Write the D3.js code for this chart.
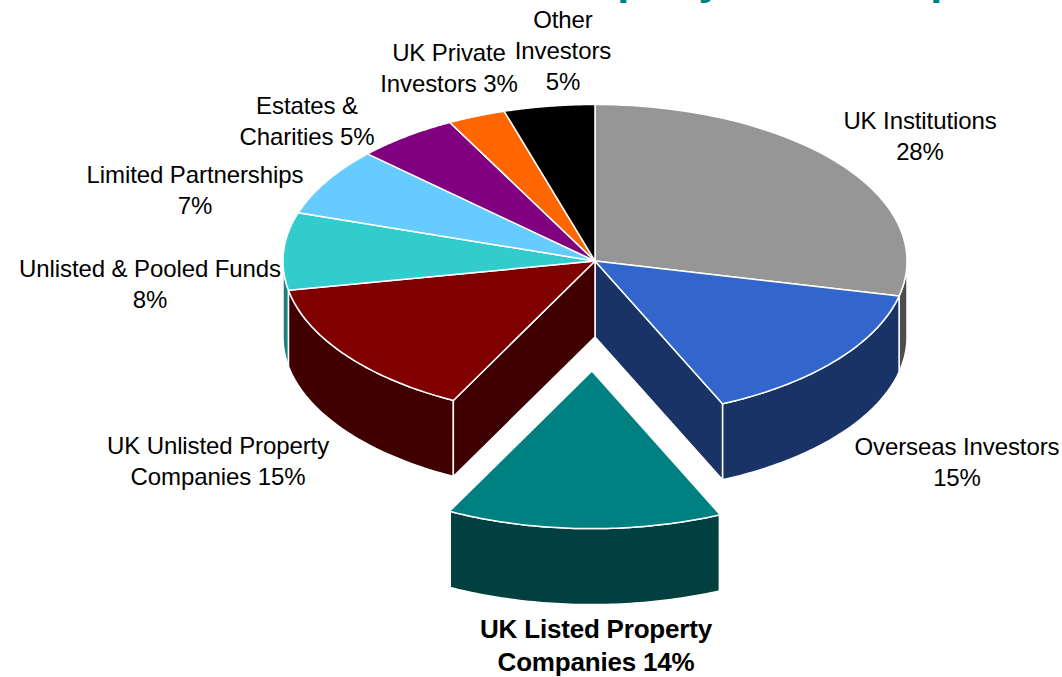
<!DOCTYPE html>
<html><head><meta charset="utf-8">
<script src="https://cdn.jsdelivr.net/npm/d3@7"></script>
<style>html,body{margin:0;padding:0;background:#fff;overflow:hidden}svg{display:block}
text{font-family:"Liberation Sans",Arial,sans-serif}</style></head>
<body><svg id="c" width="1062" height="677"></svg>
<script>
const categories=["UK Institutions","Overseas Investors","UK Listed Property Companies","UK Unlisted Property Companies","Unlisted & Pooled Funds","Limited Partnerships","Estates & Charities","UK Private Investors","Other Investors"];
const values=[28.6,14.7,14.2,14.5,8.0,7.0,5.3,3.0,4.7];
const topColors=["#969696","#3366cc","#008080","#800000","#33cccc","#66ccff","#800080","#ff6600","#000000"];
const wallColors=["#4d4d4d","#1a3366","#004040","#400000","#1a8080","#336680","#400040","#803300","#000000"];
const labelLines=[["UK Institutions","28%"],["Overseas Investors","15%"],["UK Listed Property","Companies 14%"],["UK Unlisted Property","Companies 15%"],["Unlisted & Pooled Funds","8%"],["Limited Partnerships","7%"],["Estates &","Charities 5%"],["UK Private","Investors 3%"],["Other","Investors","5%"]];
const labelCx=[920,957,596,218,150,195,307,449,563];
const labelTop=[129,455,638,454,277,183,114,61,28];
const explodedIndex=2, explodeX=-0.01, explodeY=0.71, depth=76;
const title="Property Ownership";

const svg=d3.select("#c");
const sx=d3.scaleLinear().domain([-1,1]).range([283,907]);
const sy=d3.scaleLinear().domain([-1,1]).range([104.5,417.5]);
const slices=d3.pie().sort(null).value(d=>d)(values).map((s,i)=>{
  const on=i===explodedIndex;
  return {...s,i,ox:on?explodeX:0,oy:on?explodeY:0};
});
const px=(s,a,r=1)=>sx(s.ox+r*Math.sin(a));
const py=(s,a,r=1)=>sy(s.oy-r*Math.cos(a));
const line=d3.line().x(d=>d[0]).y(d=>d[1]);
const arcPts=(s,a0,a1)=>d3.range(0,61).map(k=>{const a=a0+(a1-a0)*k/60;return [px(s,a),py(s,a)];});
const stroke=(sel,w)=>sel.attr("stroke","#fff").attr("stroke-width",w).attr("stroke-linejoin","round");

// title: only its descenders reach into the picture, as in the reference
svg.append("text").attr("x",751).attr("y",-6).attr("text-anchor","middle").attr("font-size",43).attr("font-weight","bold").attr("fill","#008080").text(title);

// outer walls of the near half of the rim
const wallOf=(s)=>{
  const a0=Math.max(s.startAngle,Math.PI/2), a1=Math.min(s.endAngle,Math.PI*1.5);
  if(a1<=a0) return;
  const t=arcPts(s,a0,a1), b=t.slice().reverse().map(p=>[p[0],p[1]+depth]);
  stroke(svg.append("path").attr("d",line(t.concat(b))+"Z").attr("fill",wallColors[s.i]),1.5);
};
const radial=(s,a)=>{
  const c=[px(s,0,0),py(s,0,0)], e=[px(s,a),py(s,a)];
  stroke(svg.append("path").attr("d",line([c,e,[e[0],e[1]+depth],[c[0],c[1]+depth]])+"Z").attr("fill",wallColors[s.i]),1.5);
};
[0,4].forEach(i=>wallOf(slices[i]));
[1,3].forEach(i=>wallOf(slices[i]));
radial(slices[1],slices[1].endAngle);
radial(slices[3],slices[3].startAngle);

// top faces
slices.filter(s=>s.i!==explodedIndex).forEach(s=>{
  const c=[px(s,0,0),py(s,0,0)];
  stroke(svg.append("path").attr("d",line([c,...arcPts(s,s.startAngle,s.endAngle)])+"Z").attr("fill",topColors[s.i]),1.5);
});

// exploded slice
const ex=slices[explodedIndex];
wallOf(ex);
svg.append("path").attr("d",line([[px(ex,0,0),py(ex,0,0)],...arcPts(ex,ex.startAngle,ex.endAngle)])+"Z").attr("fill",topColors[ex.i]);
stroke(svg.append("path").attr("d",line(arcPts(ex,ex.startAngle,ex.endAngle))).attr("fill","none"),1.5);

// labels
labelLines.forEach((lines,i)=>{
  const bold=i===explodedIndex;
  const t=svg.append("text").attr("text-anchor","middle").attr("font-size",bold?26:24).attr("fill","#000").attr("letter-spacing",bold?-0.2:-0.1)
    .attr("font-weight",bold?"bold":"normal");
  lines.forEach((l,k)=>t.append("tspan").attr("x",labelCx[i]).attr("y",labelTop[i]+k*(bold?33:31)).text(l));
});
</script></body></html>
